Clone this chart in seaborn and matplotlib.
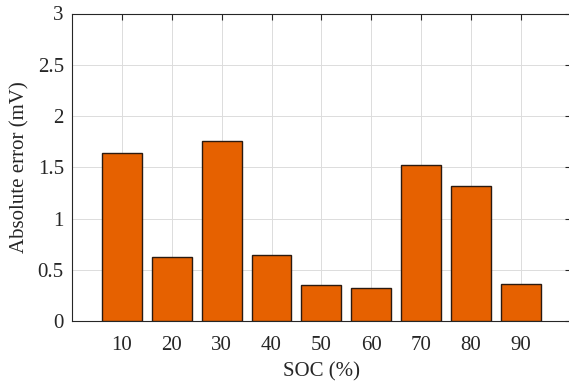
import matplotlib
matplotlib.use("Agg")
import matplotlib.pyplot as plt
import seaborn as sns
import pandas as pd

soc = [10, 20, 30, 40, 50, 60, 70, 80, 90]
abs_err = [1.636, 0.627, 1.759, 0.644, 0.351, 0.325, 1.522, 1.32, 0.361]
xticks = [10, 20, 30, 40, 50, 60, 70, 80, 90]
yticks = [0, 0.5, 1, 1.5, 2, 2.5, 3]
ytick_labels = ["0", "0.5", "1", "1.5", "2", "2.5", "3"]

sns.set_theme(style="white")
plt.rcParams["font.family"] = ["Liberation Serif", "DejaVu Serif"]
plt.rcParams["mathtext.fontset"] = "stix"

df = pd.DataFrame({"SOC": soc, "err": abs_err})

fig = plt.figure(figsize=(5.69, 3.82), dpi=100)
ax = fig.add_axes([72.2 / 569, 1 - 321 / 382, (570.6 - 72.2) / 569, (321 - 13.5) / 382])

sns.barplot(data=df, x="SOC", y="err", native_scale=True, color="#E66100",
            saturation=1, edgecolor="#2b1a10", linewidth=1.0, ax=ax, zorder=3)

ax.set_xlim(0, 100)
ax.set_ylim(0, 3)
ax.set_xticks(xticks)
ax.set_xticklabels([str(t) for t in xticks])
ax.set_yticks(yticks)
ax.set_yticklabels(ytick_labels)
ax.grid(True, color="#dcdcdc", linewidth=0.7, zorder=0)
ax.set_axisbelow(True)
ax.tick_params(direction="in", length=4, width=0.8, top=True, right=True,
               labelsize=15, colors="#262626")
ax.tick_params(axis="y", pad=6)
ax.tick_params(axis="x", pad=11)
for s in ax.spines.values():
    s.set_color("#262626")
    s.set_linewidth(0.8)
ax.set_xlabel("SOC (%)", fontsize=15, color="#262626", labelpad=5)
ax.set_ylabel("Absolute error (mV)", fontsize=15, color="#262626", labelpad=6)

fig.savefig("out.png", dpi=100)
